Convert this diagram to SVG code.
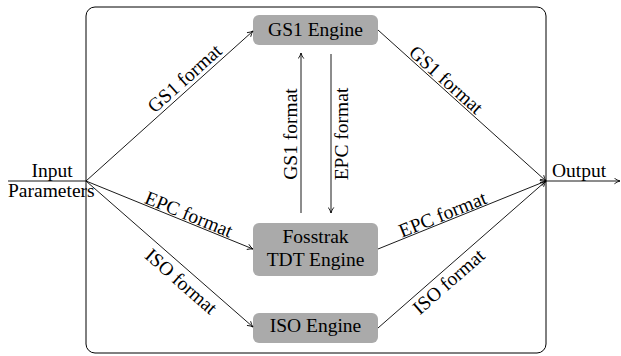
<svg xmlns="http://www.w3.org/2000/svg" width="621" height="356" viewBox="0 0 621 356">
<defs>
<marker id="ah" viewBox="0 0 10 10" refX="9" refY="5" markerWidth="7" markerHeight="7" markerUnits="userSpaceOnUse" orient="auto">
<path d="M1,1 Q5,4 9,5 Q5,6 1,9" fill="none" stroke="#000" stroke-width="1.2"/>
</marker>
</defs>
<style>
text{font-family:"Liberation Serif","Times New Roman",serif;font-size:19.5px;fill:#000}
.box{fill:#aaaaaa;stroke:none}
.ln{stroke:#000;stroke-width:0.9;fill:none}
.arr{stroke:#000;stroke-width:0.9;fill:none;marker-end:url(#ah)}
</style>
<rect x="86" y="7" width="460" height="346" rx="9" fill="none" stroke="#000" stroke-width="1"/>
<g id="input">
<line class="ln" x1="8" y1="181" x2="86" y2="181"/>
<text x="52" y="177" text-anchor="middle">Input</text>
<text x="8" y="197">Parameters</text>
</g>
<g id="output">
<line class="arr" x1="546" y1="181" x2="620" y2="181"/>
<text x="552" y="177">Output</text>
</g>
<g id="gs1">
<rect class="box" x="253" y="15" width="125" height="30" rx="6"/>
<text x="315.5" y="35.5" text-anchor="middle">GS1 Engine</text>
</g>
<g id="tdt">
<rect class="box" x="253" y="223" width="125" height="53" rx="6"/>
<text x="315.5" y="243" text-anchor="middle">Fosstrak</text>
<text x="315.5" y="265.5" text-anchor="middle">TDT Engine</text>
</g>
<g id="iso">
<rect class="box" x="253" y="313" width="125" height="30" rx="6"/>
<text x="315.5" y="332" text-anchor="middle">ISO Engine</text>
</g>
<g id="connectors">
<line class="arr" x1="86" y1="181" x2="253" y2="31"/>
<line class="arr" x1="86" y1="181" x2="253" y2="249"/>
<line class="arr" x1="86" y1="181" x2="253" y2="327"/>
<line class="arr" x1="378" y1="30" x2="546" y2="181"/>
<line class="arr" x1="378" y1="249" x2="546" y2="181"/>
<line class="arr" x1="378" y1="328" x2="546" y2="181"/>
<line class="arr" x1="301" y1="213" x2="301" y2="53"/>
<line class="arr" x1="331" y1="54" x2="331" y2="213"/>
<text transform="translate(191.6,86.1) rotate(-41.9)" x="0" y="-4" text-anchor="middle">GS1 format</text>
<text transform="translate(185.8,221.6) rotate(22.2)" x="0" y="-1.5" text-anchor="middle">EPC format</text>
<text transform="translate(189.7,271.7) rotate(41.2)" x="0" y="19.5" text-anchor="middle">ISO format</text>
<text transform="translate(440.5,86.1) rotate(41.9)" x="0" y="-2" text-anchor="middle">GS1 format</text>
<text transform="translate(445.6,221.7) rotate(-22)" x="0" y="-1.5" text-anchor="middle">EPC format</text>
<text transform="translate(441,272.9) rotate(-41.2)" x="0" y="18" text-anchor="middle">ISO format</text>
<text transform="translate(299,134) rotate(-90)" x="0" y="-2" text-anchor="middle">GS1 format</text>
<text transform="translate(333,134) rotate(-90)" x="0" y="15" text-anchor="middle">EPC format</text>
</g>
</svg>
